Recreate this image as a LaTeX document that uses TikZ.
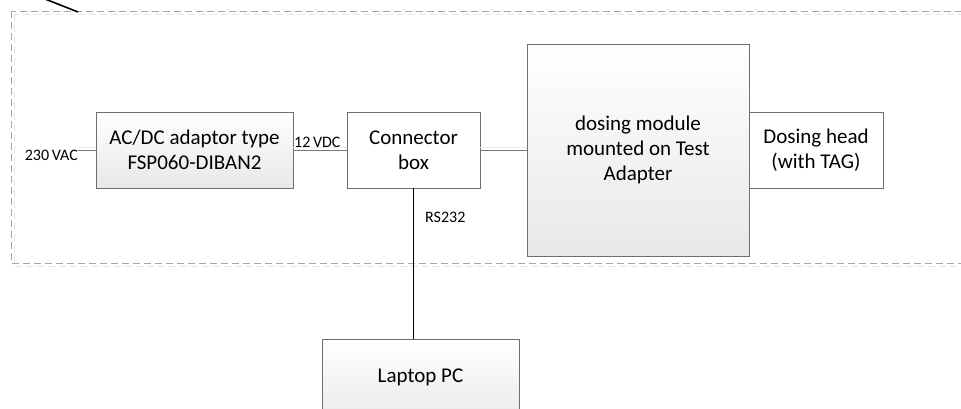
\documentclass[tikz,border=0pt]{standalone}
\usepackage{fontspec}
\setmainfont{Carlito}
\usetikzlibrary{positioning}
\definecolor{boxline}{RGB}{110,110,110}
\definecolor{wireline}{RGB}{120,120,120}
\definecolor{dashcol}{RGB}{165,165,165}
\definecolor{shadowcol}{RGB}{228,228,228}
\definecolor{wireshade}{RGB}{236,236,236}
\definecolor{gradbot}{RGB}{232,232,232}
\tikzset{
  blockbox/.style={draw=boxline, line width=0.9pt, align=center, inner sep=0pt,
    font=\fontsize{21}{25}\selectfont},
  gradbox/.style={blockbox, top color=white, bottom color=gradbot},
  plainbox/.style={blockbox, fill=white},
  smalllabel/.style={font=\fontsize{16}{18}\selectfont, inner sep=0pt},
  wire/.style={draw=wireline, line width=0.8pt},
  wireshadow/.style={draw=wireshade, line width=1pt},
}
\begin{document}
\begin{tikzpicture}[x=1pt,y=-1pt]
\useasboundingbox (0,0) rectangle (961,408);
% enclosure
\draw[shadowcol, line width=1pt, dash pattern=on 7pt off 4pt] (14,14) rectangle (980,266);
\draw[dashcol, line width=1pt, dash pattern=on 7pt off 4pt] (11,11) rectangle (977,263);
% pointer line
\coordinate (p1) at (40,-3);
\coordinate (p2) at (78,12);
\draw[black, line width=1.6pt] (p1) -- (p2);
% blocks
\node[gradbox, minimum width=197pt, minimum height=76pt] (acdc) at (194.5,150) {AC/DC adaptor type\\FSP060-DIBAN2};
\node[plainbox, minimum width=133pt, minimum height=76pt] (conn) at (413.5,150) {Connector\\box};
\node[gradbox, minimum width=222pt, minimum height=212pt] (dose) at (638,150) {dosing module\\mounted on Test\\Adapter};
\node[plainbox, minimum width=134pt, minimum height=76pt] (head) at (816,150) {Dosing head\\(with TAG)};
\node[gradbox, minimum width=197pt, minimum height=90pt] (laptop) at (420.5,384) {};
\node[font=\fontsize{21}{25}\selectfont, inner sep=0pt] (laptoptxt) at (420.5,377) {Laptop PC};
% labels
\node[smalllabel, anchor=east] (vac) at (78,155) {230\,VAC};
\node[smalllabel, anchor=south west] (vdc) at (294,148) {12\,VDC};
\node[smalllabel, anchor=west] (rs) at (425,217) {RS232};
% wires
\draw[wireshadow] ([yshift=2.5pt]vac.east |- acdc.west) -- ([yshift=2.5pt]acdc.west);
\draw[wire] (vac.east |- acdc.west) -- (acdc.west);
\draw[wireshadow] ([yshift=2.5pt]acdc.east) -- ([yshift=2.5pt]conn.west);
\draw[wire] (acdc.east) -- (conn.west);
\draw[wireshadow] ([yshift=2.5pt]conn.east) -- ([yshift=2.5pt]dose.west);
\draw[wire] (conn.east) -- (dose.west);
\draw[black, line width=1pt] (conn.south) -- (conn.south |- laptop.north);
\end{tikzpicture}
\end{document}
